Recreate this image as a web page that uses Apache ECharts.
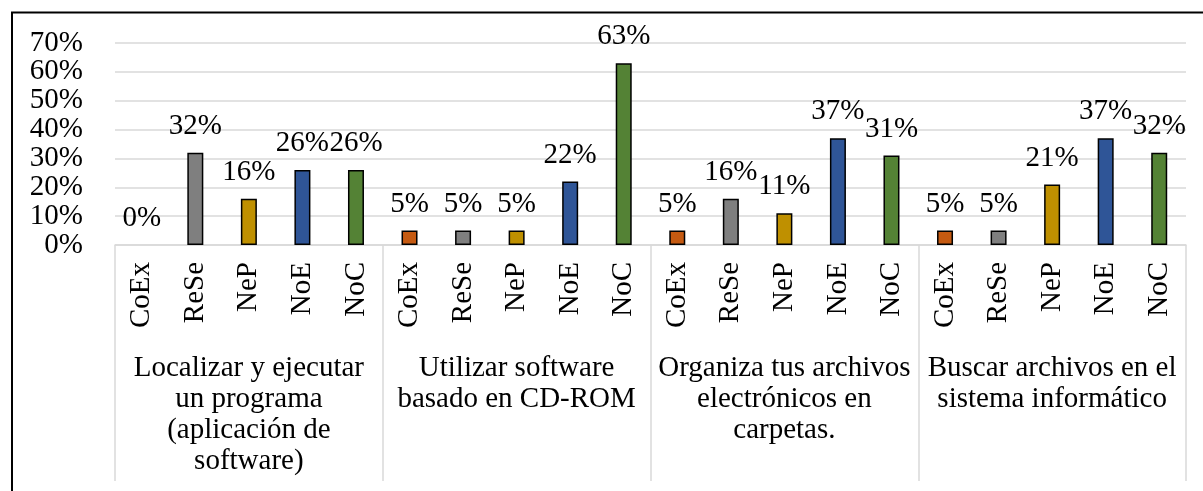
<!DOCTYPE html>
<html>
<head>
<meta charset="utf-8">
<script src="https://cdn.jsdelivr.net/npm/echarts@6/dist/echarts.min.js"></script>
<style>
  html, body { margin: 0; padding: 0; background: #fff; }
  #chart { width: 1203px; height: 491px; }
</style>
</head>
<body>
<div id="chart"></div>
<script>
// sub categories repeated in every group
const subCats = ['CoEx', 'ReSe', 'NeP', 'NoE', 'NoC'];
const groupLabels = [
  'Localizar y ejecutar\nun programa\n(aplicación de\nsoftware)',
  'Utilizar software\nbasado en CD-ROM',
  'Organiza tus archivos\nelectrónicos en\ncarpetas.',
  'Buscar archivos en el\nsistema informático'
];
// percent values per group, in subCats order
const localizarVals = [0, 32, 16, 26, 26];
const utilizarVals = [5, 5, 5, 22, 63];
const organizaVals = [5, 16, 11, 37, 31];
const buscarVals = [5, 5, 21, 37, 32];
const yTicks = [0, 10, 20, 30, 40, 50, 60, 70];

const subColors = ['#C55A11', '#7F7F7F', '#BF9000', '#2F5597', '#548235'];
const font = "'Liberation Serif', 'Times New Roman', serif";

const allVals = [localizarVals, utilizarVals, organizaVals, buscarVals];
const xCats = [];
const barData = [];
allVals.forEach((vals) => {
  vals.forEach((v, i) => {
    xCats.push(subCats[i]);
    // a 0% bar draws nothing in the original, not even its outline
    barData.push({
      value: v,
      itemStyle: { color: subColors[i], borderWidth: v === 0 ? 0 : 1.5 }
    });
  });
});

const chart = echarts.init(document.getElementById('chart'));

chart.setOption({
  backgroundColor: '#fff',
  animation: false,
  grid: { left: 115, right: 17, top: 43, bottom: 246 },
  xAxis: [
    {
      type: 'category',
      data: xCats,
      axisLine: { lineStyle: { color: '#d9d9d9', width: 1.5 } },
      axisTick: { show: false },
      axisLabel: {
        interval: 0,
        rotate: 90,
        margin: 17,
        color: '#000',
        fontFamily: font,
        fontSize: 29
      }
    },
    {
      type: 'category',
      data: groupLabels,
      position: 'bottom',
      axisLine: { show: false },
      axisTick: {
        show: true,
        interval: 0,
        length: 236,
        lineStyle: { color: '#d9d9d9', width: 1.5 }
      },
      axisLabel: {
        interval: 0,
        margin: 108,
        color: '#000',
        fontFamily: font,
        fontSize: 29,
        lineHeight: 31
      }
    }
  ],
  yAxis: {
    type: 'value',
    min: yTicks[0],
    max: yTicks[yTicks.length - 1],
    interval: 10,
    axisLine: { show: false },
    axisTick: { show: false },
    splitLine: { lineStyle: { color: '#d9d9d9', width: 1.5 } },
    axisLabel: {
      margin: 32,
      color: '#000',
      fontFamily: font,
      fontSize: 29,
      formatter: '{value}%'
    }
  },
  series: [
    {
      type: 'bar',
      xAxisIndex: 0,
      data: barData,
      barWidth: 16,
      itemStyle: { borderColor: '#000', borderWidth: 1.5 },
      label: {
        show: true,
        position: 'top',
        distance: 12,
        color: '#000',
        fontFamily: font,
        fontSize: 29,
        formatter: '{c}%'
      }
    }
  ],
  graphic: [
    {
      type: 'rect',
      shape: { x: 12, y: 12.5, width: 1250, height: 520 },
      style: { fill: null, stroke: '#000', lineWidth: 2 },
      silent: true
    }
  ]
});
</script>
</body>
</html>
